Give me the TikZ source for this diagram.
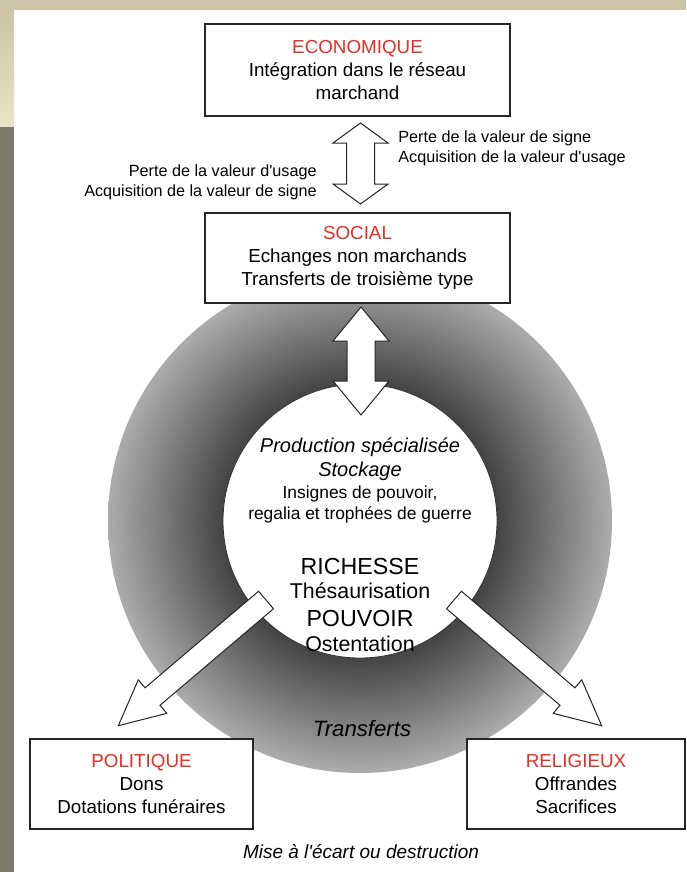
\documentclass[tikz,border=0pt]{standalone}
\usepackage{fontspec}
\setmainfont{Liberation Sans}
\usepackage{tikz}
\usetikzlibrary{calc}

\definecolor{catred}{RGB}{232,46,38}
\definecolor{ringdark}{RGB}{68,68,68}
\definecolor{ringlight}{RGB}{172,172,172}
\definecolor{slidebeige}{RGB}{205,196,167}
\definecolor{slidelight}{RGB}{236,227,198}
\definecolor{slidegray}{RGB}{122,122,107}

\pgfdeclareradialshading{ringshade}{\pgfpoint{0bp}{0bp}}{%
  color(0bp)=(ringdark); color(13.6bp)=(ringdark); color(25bp)=(ringlight); color(50bp)=(ringlight)}

\begin{document}
\begin{tikzpicture}[x=0.5pt, y=-0.5pt,
  every node/.style={font=\fontsize{9.4}{11.5}\selectfont},
  catbox/.style={draw=black!85, line width=0.6pt, fill=white, align=center, inner sep=0pt},
  bigarrow/.style={draw=black!85, line width=0.5pt, fill=white, line join=miter},
  sidenote/.style={font=\fontsize{8.1}{9.75}\selectfont, inner sep=0pt},
  coreline/.style={anchor=base, inner sep=0pt}]
  % slide background
  \useasboundingbox (0,0) rectangle (686,872);
  \fill[white] (0,0) rectangle (686,872);
  \fill[slidebeige] (0,0) rectangle (686,10);
  \shade[top color=slidebeige, bottom color=slidelight] (0,10) rectangle (14,127);
  \fill[slidegray] (0,127) rectangle (14,872);
  % shaded ring and white core
  \coordinate (hub) at (360,521);
  \shade[shading=ringshade] (hub) circle [radius=252];
  \node[circle, draw=black!80, line width=0.4pt, fill=white, minimum size=137pt, inner sep=0pt] (core) at (hub) {};
  % double arrows
  \coordinate (ecoarr) at (360.5,123);
  \coordinate (socarr) at (360.5,204);
  \draw[bigarrow] (ecoarr) -- ++(27.5,20) -- ++(-13.5,0) -- ++(0,41) -- ++(13.5,0) -- (socarr)
    -- ++(-27.5,-20) -- ++(13.5,0) -- ++(0,-41) -- ++(-13.5,0) -- cycle;
  \coordinate (socout) at (361,307);
  \coordinate (corein) at (361,415);
  \draw[bigarrow] (socout) -- ++(28,34) -- ++(-14,0) -- ++(0,40) -- ++(14,0) -- (corein)
    -- ++(-28,-34) -- ++(14,0) -- ++(0,-40) -- ++(-14,0) -- cycle;
  % transfer arrows
  \coordinate (polfrom) at (266,600);
  \coordinate (relfrom) at (454,600);
  \begin{scope}[shift={(polfrom)}, rotate=220.4]
    \draw[bigarrow] (0,-11.5) -- (149,-11.5) -- (149,-22) -- (194,0) -- (149,22) -- (149,11.5) -- (0,11.5) -- cycle;
  \end{scope}
  \begin{scope}[shift={(relfrom)}, rotate=-40.4]
    \draw[bigarrow] (0,-11.5) -- (149,-11.5) -- (149,-22) -- (194,0) -- (149,22) -- (149,11.5) -- (0,11.5) -- cycle;
  \end{scope}
  % boxes
  \node[catbox, minimum width=152.5pt, minimum height=46pt] (eco) at (357.5,70)
    {\textcolor{catred}{ECONOMIQUE}\\Intégration dans le réseau\\marchand};
  \node[catbox, minimum width=152.5pt, minimum height=45pt] (soc) at (357.5,258)
    {\textcolor{catred}{SOCIAL}\\Echanges non marchands\\Transferts de troisième type};
  \node[catbox, minimum width=111.5pt, minimum height=45pt] (pol) at (141.5,784)
    {\textcolor{catred}{POLITIQUE}\\Dons\\Dotations funéraires};
  \node[catbox, minimum width=109pt, minimum height=45pt] (rel) at (576,784)
    {\textcolor{catred}{RELIGIEUX}\\Offrandes\\Sacrifices};
  % value notes
  \node[sidenote, anchor=west, align=left] (signloss) at (398,148.5)
    {Perte de la valeur de signe\\Acquisition de la valeur d\textquotesingle usage};
  \node[sidenote, anchor=east, align=right] (useloss) at (317,182.5)
    {Perte de la valeur d\textquotesingle usage\\Acquisition de la valeur de signe};
  % core texts
  \node[coreline, font=\itshape\fontsize{10}{12}\selectfont] (prod) at (360,452) {Production spécialisée};
  \node[coreline, font=\itshape\fontsize{10}{12}\selectfont] (stock) at (360,476) {Stockage};
  \node[coreline, font=\fontsize{8.7}{10}\selectfont] (insig) at (360,498) {Insignes de pouvoir,};
  \node[coreline, font=\fontsize{8.7}{10}\selectfont] (regal) at (360,519) {regalia et trophées de guerre};
  \node[coreline, font=\fontsize{11.6}{13}\selectfont] (rich) at (360,574) {RICHESSE};
  \node[coreline, font=\fontsize{10.7}{12}\selectfont] (thes) at (360,598) {Thésaurisation};
  \node[coreline, font=\fontsize{11.6}{13}\selectfont] (pouv) at (360,626) {POUVOIR};
  \node[coreline, font=\fontsize{10.7}{12}\selectfont] (osten) at (360,651) {Ostentation};
  \node[coreline, font=\itshape\fontsize{11.1}{13}\selectfont] (transf) at (362,736) {Transferts};
  \node[coreline, font=\itshape\fontsize{9.5}{11}\selectfont] (mise) at (361,858) {Mise à l\textquotesingle écart ou destruction};
\end{tikzpicture}
\end{document}
